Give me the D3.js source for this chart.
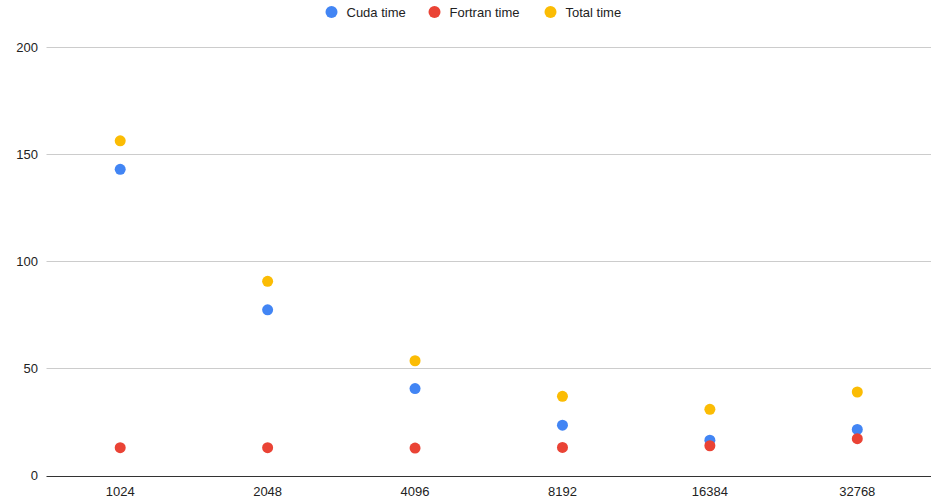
<html>
<head>
<style>
  body { margin: 0; background: #fff; }
  svg { display: block; font-family: Arial, "Liberation Sans", sans-serif; }
</style>
</head>
<body>
<svg width="932" height="498"></svg>
<script src="https://d3js.org/d3.v7.min.js"></script>
<script>
// chart data
const sizes = ["1024", "2048", "4096", "8192", "16384", "32768"];
const cudaTime = [143.0, 77.4, 40.6, 23.5, 16.5, 21.5];
const fortranTime = [13.0, 13.0, 12.8, 13.1, 13.9, 17.2];
const totalTime = [156.3, 90.7, 53.6, 37.0, 30.9, 39.0];
const yTicks = [0, 50, 100, 150, 200];

const series = [
  { name: "Cuda time", color: "#4285f4", values: cudaTime },
  { name: "Fortran time", color: "#ea4335", values: fortranTime },
  { name: "Total time", color: "#fbbc04", values: totalTime }
];

const svg = d3.select("svg");
const plotLeft = 46.5, plotRight = 931, plotTop = 47.3, plotBottom = 475.5;

const x = d3.scaleBand().domain(sizes).range([plotLeft, plotRight]);
const y = d3.scaleLinear().domain([0, 200]).range([plotBottom, plotTop]);

// gridlines
svg.append("g")
  .selectAll("line")
  .data(yTicks.filter(d => d > 0))
  .enter().append("line")
  .attr("x1", plotLeft).attr("x2", plotRight)
  .attr("y1", d => Math.round(y(d)) + 0.5).attr("y2", d => Math.round(y(d)) + 0.5)
  .style("stroke", "#cccccc")
  .style("stroke-width", 1);

// y labels
svg.append("g")
  .selectAll("text")
  .data(yTicks)
  .enter().append("text")
  .attr("x", 38)
  .attr("y", d => y(d))
  .attr("dy", "0.35em")
  .attr("text-anchor", "end")
  .style("font-size", "13px")
  .style("fill", "#222")
  .text(d => d);

// baseline
svg.append("line")
  .attr("x1", plotLeft).attr("x2", plotRight)
  .attr("y1", Math.round(y(0)) + 0.5).attr("y2", Math.round(y(0)) + 0.5)
  .style("stroke", "#333")
  .style("stroke-width", 1);

// x labels
svg.append("g")
  .selectAll("text")
  .data(sizes)
  .enter().append("text")
  .attr("x", d => x(d) + x.bandwidth() / 2)
  .attr("y", 496)
  .attr("text-anchor", "middle")
  .style("font-size", "13px")
  .style("fill", "#222")
  .text(d => d);

// points
series.forEach(s => {
  svg.append("g")
    .selectAll("circle")
    .data(s.values)
    .enter().append("circle")
    .attr("cx", (d, i) => x(sizes[i]) + x.bandwidth() / 2)
    .attr("cy", d => y(d))
    .attr("r", 5.5)
    .style("fill", s.color);
});

// legend
const legendX = [331.5, 434.5, 550.5];
const legend = svg.append("g")
  .selectAll("g")
  .data(series)
  .enter().append("g")
  .attr("transform", (d, i) => "translate(" + legendX[i] + ",12)");

legend.append("circle")
  .attr("r", 6)
  .style("fill", d => d.color);

legend.append("text")
  .attr("x", 15)
  .attr("dy", "0.35em")
  .style("font-size", "13px")
  .style("fill", "#222")
  .text(d => d.name);
</script>
</body>
</html>
